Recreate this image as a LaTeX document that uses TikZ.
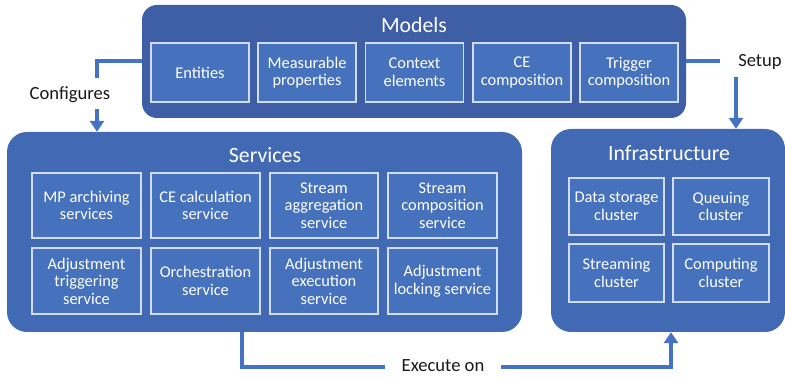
\documentclass[tikz,border=0pt]{standalone}
\usepackage{fontspec}
\setmainfont{Carlito}
\usetikzlibrary{arrows.meta,calc}
\definecolor{modelsfill}{RGB}{62,94,166}
\definecolor{groupfill}{RGB}{66,106,180}
\definecolor{itemfill}{RGB}{70,113,188}
\definecolor{itemline}{RGB}{210,220,240}
\definecolor{arrowblue}{RGB}{68,114,196}
\definecolor{labeltext}{RGB}{25,25,25}
\tikzset{
  groupbox/.style={fill=groupfill, draw=none, rounded corners=20pt, inner sep=0pt},
  modelsbox/.style={fill=modelsfill, draw=none, rounded corners=15pt, inner sep=0pt},
  itembox/.style={fill=itemfill, draw=itemline, line width=1.2pt, inner sep=0pt,
    text=white, align=center, font=\fontsize{16.4}{17.6}\selectfont},
  titletext/.style={text=white, font=\fontsize{21.8}{25}\selectfont},
  flowlabel/.style={text=labeltext, font=\fontsize{18.6}{21}\selectfont},
  flow/.style={draw=arrowblue, line width=4pt},
  flowarrow/.style={flow, -{Triangle[width=14pt,length=11pt]}},
}
\begin{document}
\begin{tikzpicture}[x=1pt,y=-1pt]
\useasboundingbox (0,0) rectangle (785,379);
% group boxes
\node[modelsbox, minimum width=544pt, minimum height=113pt] (models) at (414,61.5) {};
\node[groupbox, minimum width=515pt, minimum height=200pt] (services) at (264.5,232) {};
\node[groupbox, minimum width=234pt, minimum height=203pt] (infra) at (668,230.5) {};
% titles
\node[titletext] (modelsT) at (414,25) {Models};
\node[titletext] (servicesT) at (265,155) {Services};
\node[titletext] (infraT) at (669,153) {Infrastructure};
% model items
\foreach \x/\n/\t in {200/m1/Entities, 307/m2/{Measurable\\properties}, 414.5/m3/{Context\\elements}, 522/m4/{CE\\composition}, 629/m5/{Trigger\\composition}}
  \node[itembox, minimum width=98pt, minimum height=59pt] (\n) at (\x,72.5) {\t};
% service items
\node[itembox, minimum width=109pt, minimum height=65pt] (s1) at (86.5,205.5) {MP archiving\\services};
\node[itembox, minimum width=109pt, minimum height=65pt] (s2) at (205.5,205.5) {CE calculation\\service};
\node[itembox, minimum width=108pt, minimum height=65pt] (s3) at (324,205.5) {Stream\\aggregation\\service};
\node[itembox, minimum width=109pt, minimum height=65pt] (s4) at (442.5,205.5) {Stream\\composition\\service};
\node[itembox, minimum width=109pt, minimum height=66pt] (s5) at (86.5,281) {Adjustment\\triggering\\service};
\node[itembox, minimum width=109pt, minimum height=66pt] (s6) at (205.5,281) {Orchestration\\service};
\node[itembox, minimum width=108pt, minimum height=66pt] (s7) at (324,281) {Adjustment\\execution\\service};
\node[itembox, minimum width=109pt, minimum height=66pt] (s8) at (442.5,281) {Adjustment\\locking service};
% infrastructure items
\node[itembox, minimum width=95pt, minimum height=57pt] (i1) at (616.5,206.5) {Data storage\\cluster};
\node[itembox, minimum width=96pt, minimum height=57pt] (i2) at (721,206.5) {Queuing\\cluster};
\node[itembox, minimum width=95pt, minimum height=58pt] (i3) at (616.5,273) {Streaming\\cluster};
\node[itembox, minimum width=96pt, minimum height=58pt] (i4) at (721,273) {Computing\\cluster};
% labels
\node[flowlabel] (cfgL) at (70,94.5) {Configures};
\node[flowlabel] (setupL) at (760,61.5) {Setup};
\node[flowlabel] (execL) at (443,366) {Execute on};
% connector coordinates
\coordinate (cfgA) at (97,78);
\coordinate (cfgB) at (97,109);
\coordinate (setA) at (720,61.5);
\coordinate (setB) at (736,77);
\coordinate (exA) at (242,367.5);
\coordinate (exB) at (385,367.5);
\coordinate (exC) at (501,367.5);
% connectors
\draw[flow] (models.west) -| (cfgA);
\draw[flowarrow] (cfgB) -- (cfgB |- services.north);
\draw[flow] (models.east) -- (setA);
\draw[flowarrow] (setB) -- (setB |- infra.north);
\draw[flow] (exA |- services.south) -- (exA) -- (exB);
\draw[flowarrow] (exC) -| ($(infra.south)+(3,0)$);
\end{tikzpicture}
\end{document}
